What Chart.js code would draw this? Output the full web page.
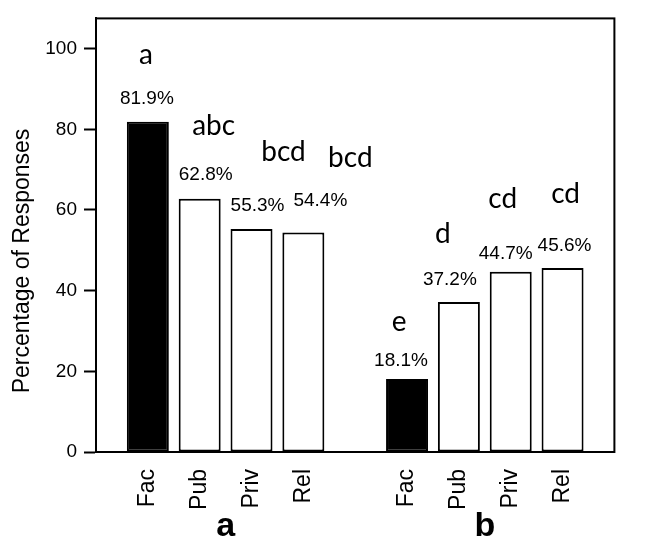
<!DOCTYPE html>
<html>
<head>
<meta charset="utf-8">
<script src="https://cdn.jsdelivr.net/npm/chart.js@4/dist/chart.umd.min.js"></script>
<style>
    html, body { margin: 0; padding: 0; background: #fff; overflow: hidden; }
    canvas { display: block; }
</style>
</head>
<body>
<canvas id="chart" width="651" height="539"></canvas>
<script>
var categories = ['Fac', 'Pub', 'Priv', 'Rel'];
var groups = ['a', 'b'];
var valuesA = [81.9, 62.8, 55.3, 54.4];
var valuesB = [18.1, 37.2, 44.7, 45.6];
var lettersA = ['a', 'abc', 'bcd', 'bcd'];
var lettersB = ['e', 'd', 'cd', 'cd'];
var yTicks = [0, 20, 40, 60, 80, 100];
var yTitle = 'Percentage of Responses';

// hand placement of the text above each bar, [dx, rise above bar top] in px
var pctShift = [[-1, 18], [6, 19], [6, 18], [17, 27], [-6, 13], [-9, 17], [-5, 13], [2, 17]];
var letterShift = [[-2, 58], [14, 64], [32, 68], [47, 66], [-8, 48], [-16, 59], [-8, 64], [3, 65]];

// one empty slot before, between and after the two groups
var labels = [''];
var values = [null];
var letters = [null];
var groupSlots = [];
[[valuesA, lettersA], [valuesB, lettersB]].forEach(function(g) {
    var start = labels.length;
    categories.forEach(function(c, i) {
        labels.push(c);
        values.push(g[0][i]);
        letters.push(g[1][i]);
    });
    groupSlots.push((start + labels.length - 1) / 2);
    labels.push('');
    values.push(null);
    letters.push(null);
});

var fills = labels.map(function(l) { return l === 'Fac' ? '#000' : '#fff'; });

var annotate = {
    id: 'annotate',
    afterDraw: function(chart) {
        var ctx = chart.ctx;
        var area = chart.chartArea;
        var x = chart.scales.x;
        var n = 0;
        ctx.save();

        // box around the plot
        ctx.strokeStyle = '#000';
        ctx.lineWidth = 2;
        ctx.strokeRect(area.left, area.top, area.right - area.left, area.bottom - area.top);

        ctx.fillStyle = '#000';
        ctx.textAlign = 'center';
        ctx.textBaseline = 'alphabetic';
        chart.getDatasetMeta(0).data.forEach(function(bar, i) {
            if (values[i] === null) {
                return;
            }
            var p = pctShift[n];
            var l = letterShift[n];
            n++;
            ctx.font = '19px "Liberation Sans", Arial, sans-serif';
            ctx.fillText(values[i].toFixed(1) + '%', bar.x + p[0], bar.y - p[1]);
            ctx.font = '28px Lato, "Open Sans", sans-serif';
            ctx.fillText(letters[i], bar.x + l[0], bar.y - l[1]);
        });

        ctx.font = 'bold 34px "Liberation Sans", Arial, sans-serif';
        groups.forEach(function(g, i) {
            ctx.fillText(g, x.getPixelForValue(groupSlots[i]), 536);
        });

        ctx.font = '23px "Liberation Sans", Arial, sans-serif';
        ctx.translate(23, 261);
        ctx.rotate(-Math.PI / 2);
        ctx.textBaseline = 'middle';
        ctx.fillText(yTitle, 0, 0);
        ctx.restore();
    }
};

new Chart(document.getElementById('chart'), {
    type: 'bar',
    data: {
        labels: labels,
        datasets: [{
            data: values,
            backgroundColor: fills,
            borderColor: '#000',
            borderWidth: 2,
            borderSkipped: false,
            barPercentage: 0.81,
            categoryPercentage: 1
        }]
    },
    options: {
        responsive: false,
        devicePixelRatio: 1,
        animation: false,
        events: [],
        layout: { padding: { top: 11, right: 1, left: 0, bottom: 0 } },
        plugins: {
            legend: { display: false },
            tooltip: { enabled: false }
        },
        scales: {
            x: {
                offset: false,
                grid: { display: false },
                border: { display: false },
                ticks: {
                    autoSkip: false,
                    minRotation: 90,
                    maxRotation: 90,
                    padding: 9,
                    color: '#000',
                    font: { family: '"Liberation Sans", Arial, sans-serif', size: 23 }
                },
                afterFit: function(scale) { scale.height = 87; }
            },
            y: {
                min: 0,
                max: 107.5,
                grid: {
                    drawOnChartArea: false,
                    tickLength: 12,
                    tickWidth: 2,
                    tickColor: '#000'
                },
                border: { color: '#000', width: 2 },
                ticks: {
                    padding: 7,
                    color: '#000',
                    font: { family: '"Liberation Sans", Arial, sans-serif', size: 19 }
                },
                afterBuildTicks: function(scale) {
                    scale.ticks = yTicks.map(function(v) { return { value: v }; });
                },
                afterFit: function(scale) { scale.width = 96; }
            }
        }
    },
    plugins: [annotate]
});
</script>
</body>
</html>
